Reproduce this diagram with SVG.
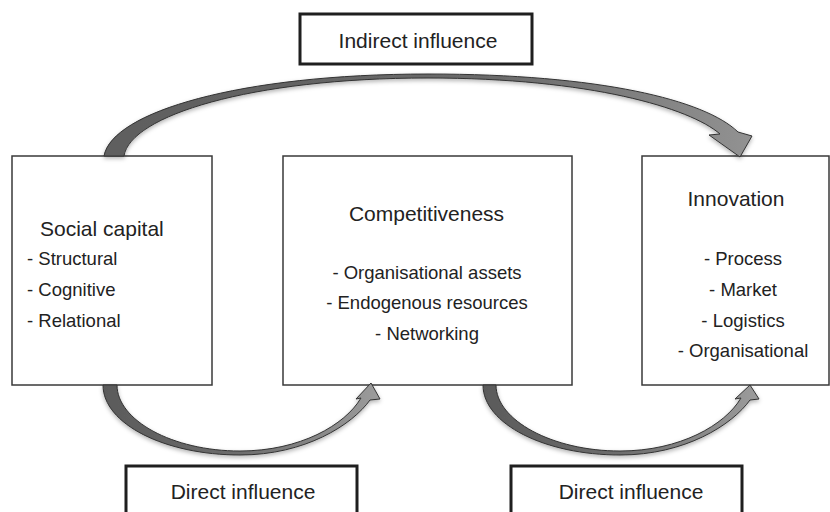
<svg xmlns="http://www.w3.org/2000/svg" width="830" height="512" viewBox="0 0 830 512">
  <style>
    .box { fill: #ffffff; stroke: #3a3a3a; stroke-width: 1.5; }
    .lbl { fill: #ffffff; stroke: #1f1f1f; stroke-width: 3; }
    text { font-family: "Liberation Sans", Arial, sans-serif; fill: #222222; }
    .title { font-size: 21px; }
    .item { font-size: 18.5px; }
    .mid { text-anchor: middle; }
    .arrow { stroke: #333333; stroke-width: 1; stroke-linejoin: round; filter: url(#shadow); }
  </style>
  <defs>
    <linearGradient id="gTop" x1="0" y1="0" x2="1" y2="0">
      <stop offset="0" stop-color="#5e5e5e"/>
      <stop offset="0.6" stop-color="#6a6a6a"/>
      <stop offset="1" stop-color="#929292"/>
    </linearGradient>
    <linearGradient id="gBot" x1="0" y1="0" x2="1" y2="0">
      <stop offset="0" stop-color="#5a5a5a"/>
      <stop offset="0.5" stop-color="#6e6e6e"/>
      <stop offset="1" stop-color="#9c9c9c"/>
    </linearGradient>
    <filter id="shadow" x="-10%" y="-20%" width="120%" height="150%">
      <feDropShadow dx="0" dy="2" stdDeviation="2" flood-color="#000000" flood-opacity="0.3"/>
    </filter>
  </defs>

  <g id="social-capital">
    <rect class="box" x="12" y="156" width="200" height="229"/>
    <text class="title" x="40" y="236">Social capital</text>
    <text class="item" x="27" y="265">- Structural</text>
    <text class="item" x="27" y="296">- Cognitive</text>
    <text class="item" x="27" y="327">- Relational</text>
  </g>

  <g id="competitiveness">
    <rect class="box" x="283" y="156" width="289" height="229"/>
    <text class="title mid" x="426.5" y="221">Competitiveness</text>
    <text class="item mid" x="427" y="279">- Organisational assets</text>
    <text class="item mid" x="427" y="309">- Endogenous resources</text>
    <text class="item mid" x="427" y="340">- Networking</text>
  </g>

  <g id="innovation">
    <rect class="box" x="642" y="156" width="187" height="229"/>
    <text class="title mid" x="736" y="206">Innovation</text>
    <text class="item mid" x="743" y="265">- Process</text>
    <text class="item mid" x="743" y="296">- Market</text>
    <text class="item mid" x="743" y="327">- Logistics</text>
    <text class="item mid" x="743" y="357">- Organisational</text>
  </g>

  <g id="indirect-influence">
    <rect class="lbl" x="300" y="14" width="232" height="50"/>
    <text class="title mid" x="418" y="48">Indirect influence</text>
  </g>

  <g id="direct-influence-1">
    <rect class="lbl" x="126" y="466" width="231" height="60"/>
    <text class="title mid" x="243" y="499">Direct influence</text>
  </g>

  <g id="direct-influence-2">
    <rect class="lbl" x="511" y="466" width="231" height="60"/>
    <text class="title mid" x="631" y="499">Direct influence</text>
  </g>

  <g id="connectors">
    <path class="arrow" fill="url(#gTop)" d="M 104,156 C 112,112 240,74 428,74 C 600,74 705,100 738,132 L 752,136 L 740,157 L 709,135 L 720,134 C 690,108 590,78 428,78 C 250,78 130,116 124,156 Z"/>
    <path class="arrow" fill="url(#gBot)" d="M 103,385 C 103,424 165,455 240,455 C 305,455 352,425 370,400 L 380,399 L 371,383 L 356,399 L 361,398 C 345,425 300,451 240,451 C 172,451 117,420 117,385 Z"/>
    <path class="arrow" fill="url(#gBot)" d="M 483,385 C 483,424 545,455 620,455 C 685,455 732,425 750,400 L 759,399 L 750,385 L 735,399 L 741,398 C 725,425 680,451 620,451 C 552,451 496,420 496,385 Z"/>
  </g>
</svg>
